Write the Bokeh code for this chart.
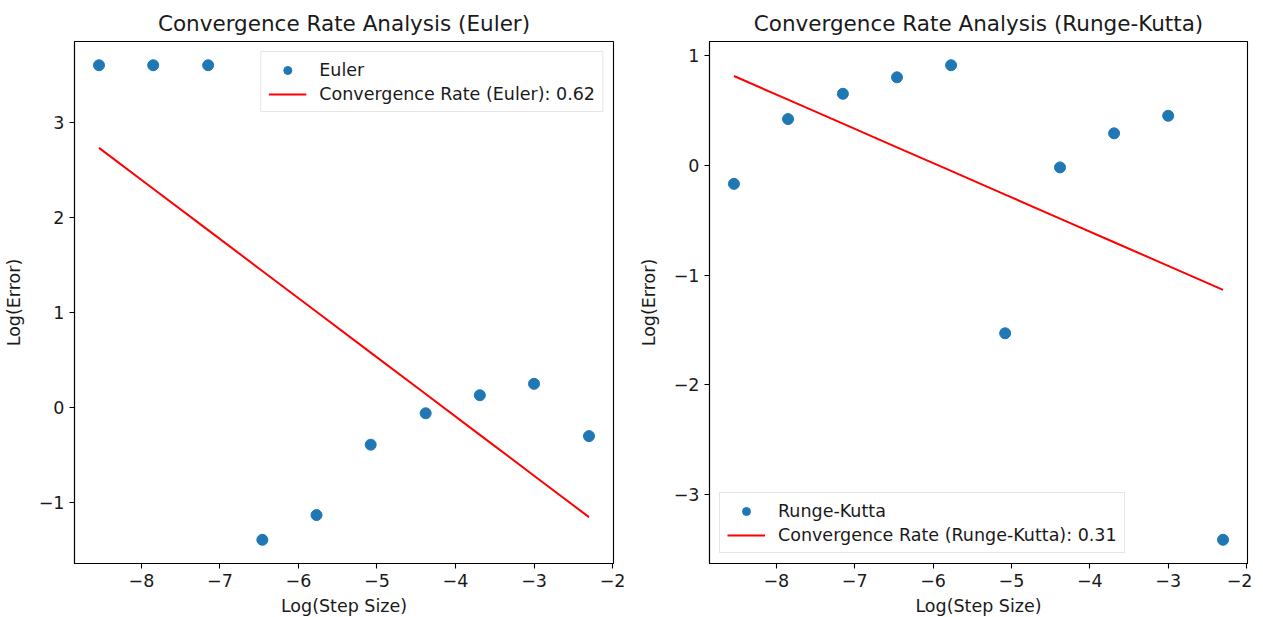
import numpy as np
from bokeh.plotting import figure
from bokeh.layouts import row
from bokeh.models import Range1d, SingleIntervalTicker, CustomJSTickFormatter
from bokeh.embed import file_html
from bokeh.resources import INLINE

# Data
log_step = [-8.54, -7.85, -7.15, -6.46, -5.77, -5.08, -4.38, -3.69, -3.00, -2.30]
euler_err = [3.60, 3.60, 3.60, -1.39, -1.13, -0.39, -0.06, 0.13, 0.25, -0.30]
rk_err = [-0.17, 0.42, 0.65, 0.80, 0.91, -1.53, -0.02, 0.29, 0.45, -3.41]
x_ticks_interval = 1
y_ticks_interval = 1

FONT = "DejaVu Sans"
BLUE = "#1f77b4"


def padded(vals, frac=0.05):
    lo, hi = min(vals), max(vals)
    d = (hi - lo) * frac
    return Range1d(lo - d, hi + d)


def make_panel(name, err, legend_loc, left_border, right_border, frame_w):
    x = np.array(log_step)
    y = np.array(err)
    slope, intercept = np.polyfit(x, y, 1)
    fit = slope * x + intercept
    p = figure(
        title=f"Convergence Rate Analysis ({name})",
        frame_width=frame_w, frame_height=522,
        min_border_left=left_border, min_border_right=right_border,
        min_border_top=41, min_border_bottom=54,
        x_range=padded(list(x)), y_range=padded(list(y) + list(fit)),
        output_backend="svg", toolbar_location=None,
    )
    p.scatter(x, y, size=11, color=BLUE, legend_label=name)
    p.line(x, fit, line_color="red", line_width=2,
           legend_label=f"Convergence Rate ({name}): {abs(slope):.2f}")

    p.title.align = "center"
    p.title.text_font = FONT
    p.title.text_font_size = "21.5px"
    p.title.text_font_style = "normal"
    p.title.text_color = "#1a1a1a"
    p.title.standoff = 12

    p.xgrid.visible = False
    p.ygrid.visible = False
    p.outline_line_color = "black"
    p.outline_line_width = 1.1
    p.background_fill_color = "white"
    p.border_fill_color = "white"

    fmt = CustomJSTickFormatter(code="return String(tick).replace('-', '\\u2212');")
    p.xaxis.ticker = SingleIntervalTicker(interval=x_ticks_interval, num_minor_ticks=0)
    p.yaxis.ticker = SingleIntervalTicker(interval=y_ticks_interval, num_minor_ticks=0)
    p.xaxis.axis_label = "Log(Step Size)"
    p.yaxis.axis_label = "Log(Error)"
    for ax in (p.xaxis, p.yaxis):
        ax.formatter = fmt
        ax.axis_line_color = "black"
        ax.axis_line_width = 1.1
        ax.major_tick_line_color = "black"
        ax.major_tick_line_width = 1.1
        ax.major_tick_out = 5
        ax.major_tick_in = 0
        ax.minor_tick_line_color = None
        ax.major_label_text_font = FONT
        ax.major_label_text_font_size = "17.5px"
        ax.major_label_text_color = "#1a1a1a"
        ax.major_label_standoff = 5
        ax.axis_label_text_font = FONT
        ax.axis_label_text_font_size = "17.5px"
        ax.axis_label_text_font_style = "normal"
        ax.axis_label_text_color = "#1a1a1a"
    p.xaxis.axis_label_standoff = 6
    p.yaxis.axis_label_standoff = 12

    lg = p.legend[0]
    lg.location = legend_loc
    lg.border_line_color = "#cccccc"
    lg.border_line_width = 1
    lg.background_fill_alpha = 0.8
    lg.label_text_font = FONT
    lg.label_text_font_size = "17.5px"
    lg.label_text_color = "#1a1a1a"
    lg.glyph_width = 38
    lg.glyph_height = 20
    lg.label_height = 21
    lg.label_standoff = 13
    lg.padding = 7
    lg.spacing = 3
    lg.margin = 10
    return p


p1 = make_panel("Euler", euler_err, "top_right", 74, 22, 539)
p2 = make_panel("Runge-Kutta", rk_err, "bottom_left", 68, 5, 538)

layout = row(p1, p2)
open("out.html", "w").write(file_html(layout, INLINE))
